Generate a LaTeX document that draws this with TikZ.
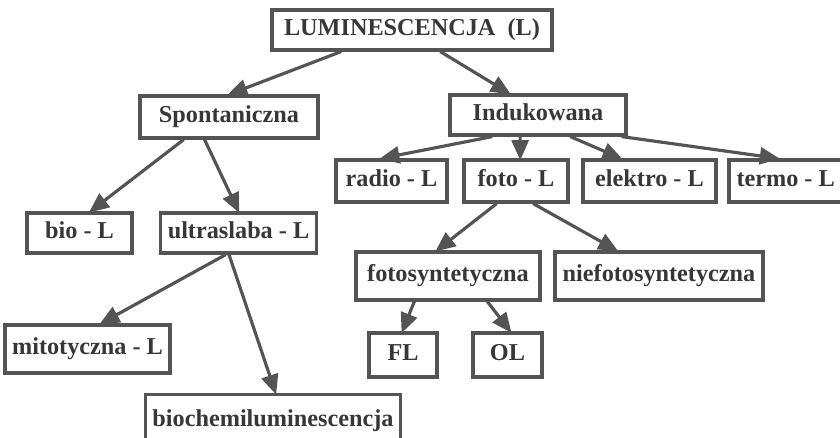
\documentclass[tikz,border=0pt]{standalone}
\usepackage{fontspec}
\setmainfont{Liberation Serif}
\usepackage{tikz}
\usetikzlibrary{
  arrows.meta,
  calc
}
\definecolor{LineGray}{RGB}{84,84,84}
\definecolor{TextGray}{RGB}{55,55,55}
\tikzset{
  termbox/.style={draw=LineGray,line width=1.8pt,minimum height=0.8cm,inner xsep=4pt,inner ysep=0pt,text height=9.5pt,text depth=3pt,text=TextGray,font=\bfseries\fontsize{13.8}{16}\selectfont},
  branch/.style={-{Triangle[length=0.4cm,width=0.34cm]},line width=1.8pt,draw=LineGray,shorten >=-1pt}
}

\begin{document}
\begin{tikzpicture}[x=0.02cm,y=-0.02cm]
\useasboundingbox (0,0) rectangle (840,438);
\clip (0,0) rectangle (840,438);

\node[termbox, minimum width=5.6cm] (lum) at (412,30) {LUMINESCENCJA\ \ (L)};

\node[termbox, minimum width=3.56cm, minimum height=0.84cm] (spont) at (229,117) {Spontaniczna};
\node[termbox, minimum width=3.52cm] (indu) at (538,115) {Indukowana};

\node[termbox, minimum width=2.22cm, minimum height=0.84cm] (radio) at (391.5,181) {radio - L};
\node[termbox, minimum width=2.08cm, minimum height=0.84cm] (foto) at (516,181) {foto - L};
\node[termbox, minimum width=2.66cm, minimum height=0.84cm] (elektro) at (649.5,181) {elektro - L};
\node[termbox, minimum width=2.6cm, minimum height=0.84cm, text width=2.3cm, align=flush left] (termo) at (794,181) {termo - L};

\node[termbox, minimum width=2.1cm] (bio) at (79.5,233) {bio - L};
\node[termbox, minimum width=3.06cm] (ultra) at (238.5,233) {ultraslaba - L};
\node[termbox, minimum width=3.18cm, minimum height=0.96cm] (mito) at (87.5,349) {mitotyczna - L};
\node[termbox, minimum width=5.04cm, minimum height=0, text height=18pt, text depth=40pt, anchor=north] (biochem) at (273,393) {biochemiluminescencja};

\node[termbox, minimum width=3.68cm, minimum height=0.96cm] (fotosyn) at (448,276) {fotosyntetyczna};
\node[termbox, minimum width=4.16cm, minimum height=0.96cm] (niefoto) at (659,276) {niefotosyntetyczna};
\node[termbox, minimum width=1.36cm, minimum height=0.88cm] (fl) at (403,355) {FL};
\node[termbox, minimum width=1.38cm, minimum height=0.88cm] (ol) at (507.5,355) {OL};

% first level
\draw[branch] ($(lum.south west)!0.25!(lum.south east)$) -- ($(spont.north west)!0.5!(spont.north east)$);
\draw[branch] ($(lum.south west)!0.6!(lum.south east)$) -- ($(indu.north west)!0.34!(indu.north east)$);

% spontaniczna
\draw[branch] ($(spont.south west)!0.25!(spont.south east)$) -- ($(bio.north west)!0.6!(bio.north east)$);
\draw[branch] ($(spont.south west)!0.365!(spont.south east)$) -- ($(ultra.north west)!0.5!(ultra.north east)$);
\draw[branch] ($(ultra.south west)!0.42!(ultra.south east)$) -- ($(mito.north west)!0.58!(mito.north east)$);
\draw[branch] ($(ultra.south west)!0.44!(ultra.south east)$) -- ($(biochem.north west)!0.51!(biochem.north east)$);

% indukowana
\draw[branch] ($(indu.south west)!0.245!(indu.south east)$) -- ($(radio.north west)!0.41!(radio.north east)$);
\draw[branch] ($(indu.south west)!0.4!(indu.south east)$) -- ($(foto.north west)!0.54!(foto.north east)$);
\draw[branch] ($(indu.south west)!0.68!(indu.south east)$) -- ($(elektro.north west)!0.29!(elektro.north east)$);
\draw[branch] ($(indu.south west)!0.966!(indu.south east)$) -- ($(termo.north west)!0.38!(termo.north east)$);

% foto
\draw[branch] ($(foto.south west)!0.32!(foto.south east)$) -- ($(fotosyn.north west)!0.44!(fotosyn.north east)$);
\draw[branch] ($(foto.south west)!0.66!(foto.south east)$) -- ($(niefoto.north west)!0.3!(niefoto.north east)$);
\draw[branch] ($(fotosyn.south west)!0.32!(fotosyn.south east)$) -- ($(fl.north west)!0.49!(fl.north east)$);
\draw[branch] ($(fotosyn.south west)!0.71!(fotosyn.south east)$) -- ($(ol.north west)!0.54!(ol.north east)$);
\end{tikzpicture}
\end{document}
